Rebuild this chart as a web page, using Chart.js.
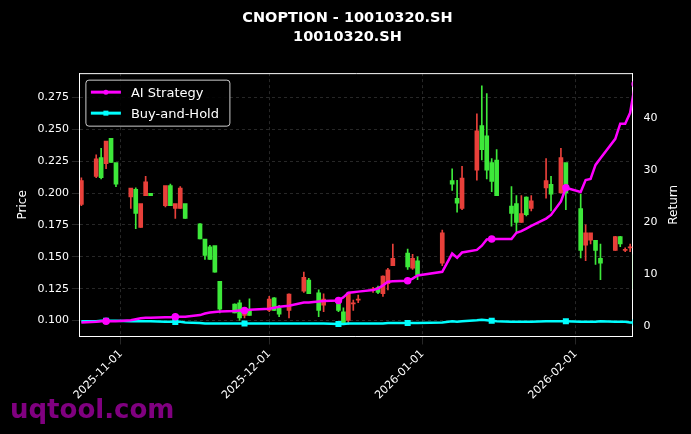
<!DOCTYPE html>
<html>
<head>
<meta charset="utf-8">
<script src="https://cdn.jsdelivr.net/npm/chart.js@4/dist/chart.umd.min.js"></script>
<style>
  body { margin: 0; background: #000; }
  #wrap { width: 691px; height: 434px; }
</style>
</head>
<body>
<div id="wrap"><canvas id="chartHarga"></canvas></div>
<script>
const dates = ['2025-10-24','2025-10-27','2025-10-28','2025-10-29','2025-10-30','2025-10-31',
  '2025-11-03','2025-11-04','2025-11-05','2025-11-06','2025-11-07','2025-11-10','2025-11-11','2025-11-12','2025-11-13','2025-11-14',
  '2025-11-17','2025-11-18','2025-11-19','2025-11-20','2025-11-21','2025-11-24','2025-11-25','2025-11-26','2025-11-27',
  '2025-12-01','2025-12-02','2025-12-03','2025-12-05','2025-12-08','2025-12-09','2025-12-11','2025-12-12',
  '2025-12-15','2025-12-16','2025-12-17','2025-12-18','2025-12-19','2025-12-22','2025-12-23','2025-12-24','2025-12-25','2025-12-26',
  '2025-12-29','2025-12-30','2025-12-31','2026-01-05','2026-01-07','2026-01-08','2026-01-09',
  '2026-01-12','2026-01-13','2026-01-14','2026-01-15','2026-01-16','2026-01-19','2026-01-20','2026-01-21','2026-01-22','2026-01-23',
  '2026-01-26','2026-01-27','2026-01-29','2026-01-30','2026-02-02','2026-02-03','2026-02-04','2026-02-05','2026-02-06',
  '2026-02-09','2026-02-10','2026-02-11','2026-02-12','2026-02-13'];
const open  = [.191,.213,.227,.223,.242,.223, .197,.202,.173,.198,.199,.190,.205,.188,.188,.191,
  .175,.163,.157,.158,.130,.112,.113,.104,.108, .108,.117,.109,.108,.123,.131,.121,.112,
  .113,.106,.100,.113,.116,.124,.125,.121,.129,.143, .152,.141,.146,.145,.209,.195,.188,
  .218,.252,.244,.223,.225,.189,.191,.177,.196,.188, .204,.206,.200,.223,.187,.159,.163,.162,.148,
  .155,.165,.155,.157,.151];
const high  = [.212,.230,.235,.240,.242,.223, .203,.204,.191,.213,.199,.205,.207,.191,.205,.191,
  .176,.163,.159,.158,.130,.113,.116,.109,.117, .119,.118,.112,.121,.138,.133,.124,.121,
  .118,.110,.122,.116,.120,.126,.127,.135,.141,.160, .156,.152,.150,.171,.219,.210,.221,
  .262,.284,.278,.227,.234,.205,.198,.198,.197,.198, .227,.213,.235,.223,.199,.175,.168,.162,.160,
  .166,.166,.157,.160,.151];
const low   = [.190,.212,.211,.219,.224,.205, .188,.172,.173,.198,.198,.189,.190,.180,.188,.180,
  .164,.148,.148,.138,.106,.106,.100,.102,.104, .107,.108,.103,.102,.122,.121,.103,.107,
  .107,.097,.097,.108,.114,.122,.121,.119,.124,.143, .140,.140,.132,.143,.202,.185,.187,
  .210,.226,.211,.201,.198,.174,.169,.177,.182,.186, .196,.186,.200,.187,.149,.147,.160,.144,.132,
  .155,.158,.154,.154,.125];
const close = [.209,.226,.212,.240,.224,.207, .203,.184,.191,.208,.198,.205,.190,.191,.203,.180,
  .164,.151,.148,.138,.109,.106,.102,.109,.104, .116,.108,.105,.120,.133,.121,.108,.116,
  .108,.098,.121,.113,.116,.124,.122,.134,.139,.148, .142,.148,.136,.168,.207,.192,.211,
  .248,.234,.218,.209,.198,.184,.177,.183,.183,.193, .209,.199,.227,.200,.155,.168,.168,.155,.145,
  .165,.160,.155,.157,.125];
const aiStrategy = [.8,.9,1,1,1,1, 1.2,1.4,1.6,1.7,1.7,1.8,1.8,1.9,1.9,1.9,
  2.2,2.5,2.7,2.8,2.9,3.0,3.1,3.1,3.2, 3.4,3.6,3.8,4.0,4.6,4.6,4.8,4.9,
  5.0,5.6,6.5,6.6,6.7,7.0,7.3,7.9,8.6,8.7, 8.8,9.2,9.8,10.5,14.0,13.2,14.2,
  14.7,15.5,16.7,16.8,16.8,16.8,18.0,18.3,18.8,19.3, 20.7,21.4,24.0,26.6,25.8,28.1,28.3,31.0,32.3,
  36.0,38.9,38.9,41.0,46.5];
const buyHold = [1.0,1.0,1.1,1.1,1.1,1.1, 1.0,1.0,1.0,1.0,1.0,0.9,0.9,0.9,0.9,0.8,
  0.7,0.6,0.6,0.6,0.6,0.6,0.6,0.6,0.6, 0.6,0.6,0.6,0.6,0.6,0.6,0.6,0.6,
  0.5,0.5,0.6,0.6,0.6,0.6,0.6,0.6,0.7,0.7, 0.7,0.7,0.7,0.8,1.0,0.9,1.0,
  1.2,1.3,1.2,1.1,1.0,0.9,0.9,0.9,0.9,0.9, 1.0,1.0,1.0,1.0,0.9,0.9,0.9,0.9,1.0,
  0.9,0.9,0.9,0.8,0.8];
const tickDates = ['2025-11-01','2025-12-01','2026-01-01','2026-02-01'];

const DAY = 86400000;
const base = Date.UTC(2025, 10, 1);
const toDay = s => (Date.parse(s + 'T00:00:00Z') - base) / DAY;
const xs = dates.map(toDay);
const tickPos = tickDates.map(toDay);

// merah = naik, hijau = turun
const candleColor = close.map((c, i) => c >= open[i] ? '#e8403a' : '#3de83a');

const bodies = xs.map((x, i) => ({ x: x, y: [Math.min(open[i], close[i]), Math.max(open[i], close[i]) + 0.0008] }));
const wicks = xs.map((x, i) => ({ x: x, y: [low[i], high[i]] }));
const aiPts = xs.map((x, i) => ({ x: x, y: aiStrategy[i] }));
const bhPts = xs.map((x, i) => ({ x: x, y: buyHold[i] }));
const markEvery = ctx => (ctx.dataIndex % 10 === 3 ? 2.5 : 0);

const legendBox = {
  id: 'legendBox',
  afterDraw(chart) {
    const c = chart.ctx, a = chart.chartArea;
    c.save();
    // garis atas bingkai
    c.strokeStyle = '#ffffff'; c.lineWidth = 1;
    c.beginPath(); c.moveTo(a.left, a.top + 0.5); c.lineTo(a.right, a.top + 0.5); c.stroke();
    // label sumbu kanan
    c.fillStyle = '#ffffff';
    c.font = '12px "DejaVu Sans"';
    c.textAlign = 'center'; c.textBaseline = 'middle';
    c.translate(674, (a.top + a.bottom) / 2);
    c.rotate(-Math.PI / 2);
    c.fillText('Return', 0, 0);
    c.setTransform(1, 0, 0, 1, 0, 0);
    c.scale(chart.currentDevicePixelRatio, chart.currentDevicePixelRatio);
    c.textAlign = 'left';

    const x = a.left + 6, y = a.top + 7;
    c.fillStyle = 'rgba(0,0,0,0.85)';
    c.strokeStyle = '#cccccc';
    c.beginPath();
    c.roundRect(x, y, 144, 46, 3);
    c.fill(); c.stroke();
    const items = [['AI Strategy', '#ff00ff', 'circle'], ['Buy-and-Hold', '#00ffff', 'rect']];
    c.font = '13px "DejaVu Sans"';
    c.textBaseline = 'middle';
    items.forEach((it, i) => {
      const ly = y + 12 + i * 21;
      c.strokeStyle = it[1]; c.fillStyle = it[1]; c.lineWidth = 3;
      c.beginPath(); c.moveTo(x + 5, ly); c.lineTo(x + 35, ly); c.stroke();
      if (it[2] === 'circle') { c.beginPath(); c.arc(x + 20, ly, 2.5, 0, 7); c.fill(); }
      else c.fillRect(x + 17.5, ly - 2.5, 5, 5);
      c.fillStyle = '#ffffff';
      c.fillText(it[0], x + 45, ly + 1);
    });
    c.font = 'bold 26px "DejaVu Sans"';
    c.fillStyle = '#800080';
    c.textBaseline = 'alphabetic';
    c.fillText('uqtool.com', 10, 418);
    c.restore();
  }
};

const grid = { color: 'rgba(110,110,110,0.6)', lineWidth: 0.6, offset: false };
const border = { color: '#ffffff', dash: [3, 3] };

new Chart(document.getElementById('chartHarga').getContext('2d'), {
  type: 'bar',
  data: {
    datasets: [
      { type: 'line', label: 'AI Strategy', data: aiPts, yAxisID: 'y1', borderColor: '#ff00ff', backgroundColor: '#ff00ff',
        borderWidth: 2.5, pointRadius: markEvery, pointStyle: 'circle', tension: 0 },
      { type: 'line', label: 'Buy-and-Hold', data: bhPts, yAxisID: 'y1', borderColor: '#00ffff', backgroundColor: '#00ffff',
        borderWidth: 2.5, pointRadius: markEvery, pointStyle: 'rect', tension: 0 },
      { label: 'body', data: bodies, yAxisID: 'y', backgroundColor: candleColor, barThickness: 4, grouped: false },
      { label: 'wick', data: wicks, yAxisID: 'y', backgroundColor: candleColor, barThickness: 1, grouped: false }
    ]
  },
  options: {
    responsive: true,
    maintainAspectRatio: false,
    animation: false,
    layout: { padding: { top: 0, right: 8, left: 12, bottom: 29 } },
    plugins: {
      legend: { display: false },
      tooltip: { enabled: false },
      title: {
        display: true, text: ['CNOPTION - 10010320.SH', '10010320.SH'], color: '#ffffff',
        font: { family: 'DejaVu Sans', size: 14.5, weight: 'bold', lineHeight: 1.35 },
        padding: { top: 8, bottom: 26 }
      }
    },
    scales: {
      x: {
        type: 'linear', offset: false, min: -8.3, max: 103.5,
        afterBuildTicks: axis => { axis.ticks = tickPos.map(v => ({ value: v })); },
        ticks: { color: '#ffffff', font: { family: 'DejaVu Sans', size: 11 }, minRotation: 45, maxRotation: 45,
          callback: (v) => tickDates[tickPos.indexOf(v)] },
        grid: grid, border: border
      },
      y: {
        position: 'left', min: 0.0875, max: 0.294,
        afterBuildTicks: axis => { axis.ticks = [0.1, 0.125, 0.15, 0.175, 0.2, 0.225, 0.25, 0.275].map(v => ({ value: v })); },
        ticks: { color: '#ffffff', font: { family: 'DejaVu Sans', size: 11 }, callback: v => v.toFixed(3) },
        title: { display: true, text: 'Price', color: '#ffffff', font: { family: 'DejaVu Sans', size: 12 } },
        grid: grid, border: border
      },
      y1: {
        position: 'right', min: -1.9, max: 48.6,
        afterBuildTicks: axis => { axis.ticks = [0, 10, 20, 30, 40].map(v => ({ value: v })); },
        ticks: { color: '#ffffff', font: { family: 'DejaVu Sans', size: 11 } },
        title: { display: true, text: 'Return', color: 'rgba(0,0,0,0)', font: { family: 'DejaVu Sans', size: 12 } },
        grid: { display: false }, border: { color: '#ffffff' }
      }
    }
  },
  plugins: [legendBox]
});
</script>
</body>
</html>
